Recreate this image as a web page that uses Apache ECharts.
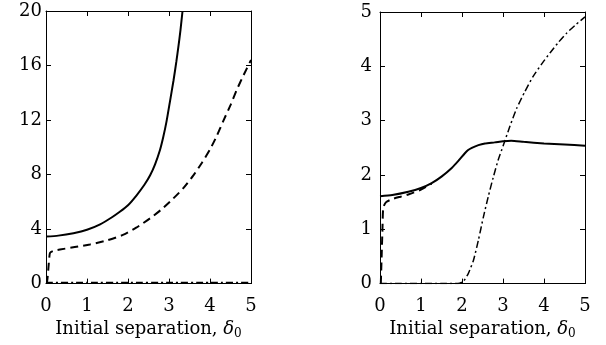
<!DOCTYPE html>
<html lang="en">
<head>
    <meta charset="UTF-8">
    <script src="https://cdn.jsdelivr.net/npm/echarts@6/dist/echarts.min.js"></script>
    <title>Initial separation</title>
</head>
<body style="margin:0;background:#fff;">
<div id="main" style="width: 606px;height:345px;"></div>

<script>
    // left panel
    var leftSolidX = [0, 0.3, 0.67, 1.0, 1.32, 1.6, 1.8, 2.0, 2.21, 2.4, 2.54, 2.66, 2.78, 2.86, 2.94, 3.02, 3.11, 3.18, 3.23, 3.28, 3.33];
    var leftSolidY = [3.45, 3.52, 3.7, 3.95, 4.35, 4.85, 5.27, 5.75, 6.48, 7.25, 7.95, 8.75, 9.8, 10.75, 11.9, 13.3, 14.9, 16.3, 17.4, 18.6, 20];
    var leftDashX = [0.02, 0.04, 0.06, 0.08, 0.1, 0.2, 0.34, 0.7, 1.07, 1.5, 1.89, 2.2, 2.54, 2.8, 3.1, 3.35, 3.59, 3.8, 4.0, 4.16, 4.32, 4.5, 4.65, 4.82, 5.0];
    var leftDashY = [0, 0.5, 1.2, 1.9, 2.26, 2.42, 2.5, 2.68, 2.87, 3.18, 3.59, 4.1, 4.79, 5.4, 6.23, 7.0, 7.92, 8.85, 9.84, 10.8, 11.9, 13.1, 14.2, 15.3, 16.4];
    var leftDotX = [0, 1, 2, 3, 4, 5];
    var leftDotY = [0.08, 0.08, 0.08, 0.08, 0.08, 0.08];

    // right panel
    var rightSolidX = [0, 0.3, 0.69, 1.0, 1.26, 1.5, 1.75, 1.9, 2.07, 2.15, 2.24, 2.4, 2.56, 2.8, 3.0, 3.2, 3.5, 4.0, 4.5, 5.0];
    var rightSolidY = [1.61, 1.63, 1.69, 1.76, 1.85, 1.97, 2.13, 2.25, 2.4, 2.46, 2.5, 2.55, 2.58, 2.6, 2.62, 2.63, 2.61, 2.58, 2.56, 2.54];
    var rightDashX = [0.02, 0.04, 0.06, 0.08, 0.15, 0.28, 0.5, 0.69, 1.0, 1.26];
    var rightDashY = [0, 0.5, 1.0, 1.4, 1.5, 1.55, 1.6, 1.64, 1.73, 1.84];
    var rightDotX = [0, 0.5, 1.0, 1.5, 1.9, 2.03, 2.15, 2.28, 2.4, 2.52, 2.64, 2.76, 2.88, 3.01, 3.17, 3.33, 3.53, 3.74, 3.95, 4.15, 4.35, 4.55, 4.78, 5.0];
    var rightDotY = [0, 0, 0, 0, 0, 0.04, 0.18, 0.43, 0.8, 1.22, 1.6, 1.95, 2.27, 2.55, 2.9, 3.22, 3.53, 3.82, 4.05, 4.25, 4.44, 4.61, 4.77, 4.91];

    var xTicks = [0, 1, 2, 3, 4, 5];

    var font = 'DejaVu Serif';

    function pairs(xs, ys) {
        return xs.map(function (x, i) { return [x, ys[i]]; });
    }

    var frameLine = {show: true, onZero: false, lineStyle: {color: '#000', width: 1}};
    var frameTick = {show: true, inside: true, length: 5, lineStyle: {color: '#000'}};

    function bottomAxis(grid) {
        return {
            type: 'value', gridIndex: grid, position: 'bottom',
            min: xTicks[0], max: xTicks[xTicks.length - 1], interval: 1,
            axisLine: frameLine, axisTick: frameTick,
            splitLine: {show: false},
            axisLabel: {color: '#000', fontFamily: font, fontSize: 18, margin: 14},
            name: 'Initial separation, {d|δ}{s|0}',
            nameLocation: 'middle', nameGap: 30,
            nameTextStyle: {
                color: '#000', fontFamily: font, fontSize: 18,
                rich: {
                    d: {fontFamily: font, fontSize: 18, fontStyle: 'italic', color: '#000'},
                    s: {fontFamily: font, fontSize: 12, color: '#000', padding: [9, 0, 0, 0]}
                }
            }
        };
    }

    function topAxis(grid) {
        return {
            type: 'value', gridIndex: grid, position: 'top',
            min: 0, max: 5, interval: 1,
            axisLine: frameLine, axisTick: frameTick,
            splitLine: {show: false},
            axisLabel: {show: false}
        };
    }

    function leftAxis(grid, max, step, margin) {
        return {
            type: 'value', gridIndex: grid, position: 'left',
            min: 0, max: max, interval: step,
            axisLine: frameLine, axisTick: frameTick,
            splitLine: {show: false},
            axisLabel: {color: '#000', fontFamily: font, fontSize: 18, margin: margin}
        };
    }

    function rightAxis(grid, max, step) {
        return {
            type: 'value', gridIndex: grid, position: 'right',
            min: 0, max: max, interval: step,
            axisLine: frameLine, axisTick: frameTick,
            splitLine: {show: false},
            axisLabel: {show: false}
        };
    }

    function line(xi, data, type, width) {
        return {
            type: 'line', xAxisIndex: xi, yAxisIndex: xi,
            data: data, symbol: 'none', smooth: 0.2, clip: true,
            lineStyle: {color: '#000', width: width, type: type},
            animation: false
        };
    }

    var chart = echarts.init(document.getElementById('main'));
    chart.setOption({
        backgroundColor: '#fff',
        animation: false,
        grid: [
            {left: 46, right: 355, top: 11, bottom: 57},
            {left: 380, right: 21, top: 12, bottom: 58}
        ],
        xAxis: [bottomAxis(0), topAxis(0), bottomAxis(1), topAxis(1)],
        yAxis: [leftAxis(0, 20, 4, 4), rightAxis(0, 20, 4), leftAxis(1, 5, 1, 8), rightAxis(1, 5, 1)],
        series: [
            line(0, pairs(leftSolidX, leftSolidY), 'solid', 2),
            line(0, pairs(leftDashX, leftDashY), [8, 5], 2),
            line(0, pairs(leftDotX, leftDotY), [7, 3, 2, 3], 1.5),
            line(2, pairs(rightSolidX, rightSolidY), 'solid', 2),
            line(2, pairs(rightDashX, rightDashY), [8, 5], 2),
            line(2, pairs(rightDotX, rightDotY), [7, 3, 2, 3], 1.5)
        ]
    });
</script>
</body>
</html>
